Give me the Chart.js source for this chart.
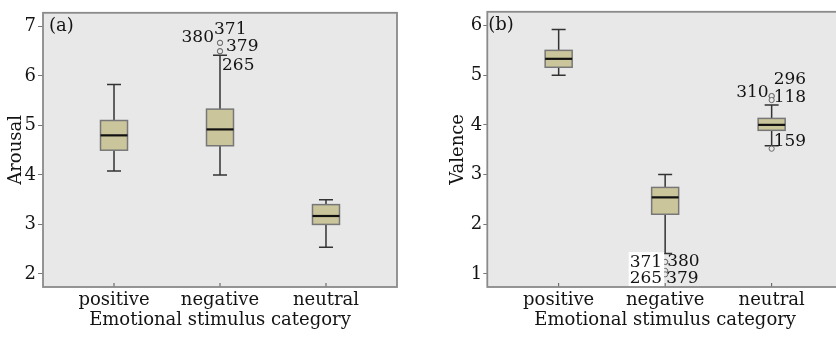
<!DOCTYPE html>
<html>
<head>
<meta charset="utf-8">
<script src="https://cdn.jsdelivr.net/npm/chart.js@4.4.0/dist/chart.umd.min.js"></script>
<style>
    html, body { margin: 0; padding: 0; background: #fff; overflow: hidden; width: 836px; height: 339px; }
    #panelA { position: absolute; left: 0; top: 0; }
    #panelB { position: absolute; left: 420px; top: 0; }
</style>
</head>
<body>
<canvas id="panelA" width="420" height="339"></canvas>
<canvas id="panelB" width="430" height="339"></canvas>
<script>
// Data
const categories = ['positive', 'negative', 'neutral'];

// (a) Arousal
const arousalMin = [4.08, 4.0, 2.54];
const arousalQ1 = [4.5, 4.59, 3.0];
const arousalMedian = [4.8, 4.92, 3.17];
const arousalQ3 = [5.1, 5.33, 3.4];
const arousalMax = [5.83, 6.42, 3.5];
const arousalOutlierCategory = [1, 1, 1, 1];
const arousalOutlierValue = [6.67, 6.67, 6.5, 6.5];
const arousalOutlierId = ['380', '371', '379', '265'];
const arousalTicks = [2, 3, 4, 5, 6, 7];

// (b) Valence
const valenceMin = [5.0, 1.41, 3.58];
const valenceQ1 = [5.16, 2.2, 3.89];
const valenceMedian = [5.33, 2.54, 4.0];
const valenceQ3 = [5.5, 2.74, 4.13];
const valenceMax = [5.92, 3.0, 4.4];
const valenceOutlierCategory = [1, 1, 1, 1, 2, 2, 2, 2];
const valenceOutlierValue = [1.24, 1.24, 1.06, 0.99, 4.58, 4.58, 4.5, 3.52];
const valenceOutlierId = ['371', '380', '265', '379', '296', '310', '118', '159'];
const valenceTicks = [1, 2, 3, 4, 5, 6];

// Styling
const FONT = 'DejaVu Serif';
const TEXT = '#141414';
const PLOT_BG = '#e8e8e8';
const BOX_FILL = '#cbc59c';

// where each outlier id sits next to its point (pixels)
const labelPlacementA = {
    '380': { dx: -6, dy: -7, align: 'right' },
    '371': { dx: -6, dy: -15, align: 'left' },
    '379': { dx: 6, dy: -6, align: 'left' },
    '265': { dx: 2, dy: 13, align: 'left' }
};
const labelPlacementB = {
    '371': { dx: -3, dy: -1, align: 'right', bg: true },
    '380': { dx: 2, dy: -2, align: 'left' },
    '265': { dx: -3, dy: 6, align: 'right', bg: true },
    '379': { dx: 1, dy: 2.5, align: 'left' },
    '296': { dx: 2, dy: -18, align: 'left' },
    '310': { dx: -3, dy: -5, align: 'right' },
    '118': { dx: 2, dy: -4, align: 'left' },
    '159': { dx: 2, dy: -9, align: 'left' }
};

const panels = {
    panelA: {
        min: arousalMin, q1: arousalQ1, median: arousalMedian, q3: arousalQ3, max: arousalMax,
        outCat: arousalOutlierCategory, outVal: arousalOutlierValue, outId: arousalOutlierId,
        placement: labelPlacementA, tag: '(a)', tagDx: 6
    },
    panelB: {
        min: valenceMin, q1: valenceQ1, median: valenceMedian, q3: valenceQ3, max: valenceMax,
        outCat: valenceOutlierCategory, outVal: valenceOutlierValue, outId: valenceOutlierId,
        placement: labelPlacementB, tag: '(b)', tagDx: 1
    }
};

// Box plot drawing
const boxPlugin = {
    id: 'boxPlot',
    beforeDraw(chart) {
        const a = chart.chartArea;
        const ctx = chart.ctx;
        ctx.save();
        ctx.fillStyle = PLOT_BG;
        ctx.fillRect(a.left, a.top, a.right - a.left, a.bottom - a.top);
        ctx.restore();
    },
    beforeDatasetsDraw(chart) {
        const p = panels[chart.canvas.id];
        const ctx = chart.ctx;
        const xs = chart.scales.x;
        const ys = chart.scales.y;
        const a = chart.chartArea;
        ctx.save();
        categories.forEach((c, i) => {
            const x = xs.getPixelForValue(i + 1);
            const yMin = ys.getPixelForValue(p.min[i]);
            const yQ1 = ys.getPixelForValue(p.q1[i]);
            const yMed = ys.getPixelForValue(p.median[i]);
            const yQ3 = ys.getPixelForValue(p.q3[i]);
            const yMax = ys.getPixelForValue(p.max[i]);

            // whiskers
            ctx.strokeStyle = '#333';
            ctx.lineWidth = 1.5;
            ctx.beginPath();
            ctx.moveTo(x, yMax); ctx.lineTo(x, yQ3);
            ctx.moveTo(x, yQ1); ctx.lineTo(x, yMin);
            ctx.moveTo(x - 7, yMax); ctx.lineTo(x + 7, yMax);
            ctx.moveTo(x - 7, yMin); ctx.lineTo(x + 7, yMin);
            ctx.stroke();

            // box
            ctx.fillStyle = BOX_FILL;
            ctx.fillRect(x - 13.5, yQ3, 27, yQ1 - yQ3);
            ctx.strokeStyle = '#777';
            ctx.lineWidth = 1.5;
            ctx.strokeRect(x - 13.5, yQ3, 27, yQ1 - yQ3);

            // median
            ctx.strokeStyle = '#111';
            ctx.lineWidth = 2.2;
            ctx.beginPath();
            ctx.moveTo(x - 13.5, yMed); ctx.lineTo(x + 13.5, yMed);
            ctx.stroke();

            // x tick mark, pointing into the plot
            ctx.strokeStyle = '#555';
            ctx.lineWidth = 1;
            ctx.beginPath();
            ctx.moveTo(x, a.bottom); ctx.lineTo(x, a.bottom - 4);
            ctx.stroke();
        });
        ctx.restore();
    },
    afterDatasetsDraw(chart) {
        const p = panels[chart.canvas.id];
        const ctx = chart.ctx;
        const xs = chart.scales.x;
        const ys = chart.scales.y;
        const a = chart.chartArea;
        ctx.save();
        ctx.font = `17px "${FONT}"`;
        ctx.textBaseline = 'alphabetic';
        p.outId.forEach((id, k) => {
            const pl = p.placement[id];
            const x = xs.getPixelForValue(p.outCat[k] + 1) + pl.dx;
            const y = ys.getPixelForValue(p.outVal[k]) + pl.dy + 6.2;
            ctx.textAlign = pl.align;
            if (pl.bg) {
                const w = ctx.measureText(id).width;
                const left = pl.align === 'right' ? x - w : x;
                ctx.fillStyle = '#fff';
                ctx.fillRect(left - 1, y - 15, w + 3, 19);
            }
            ctx.fillStyle = TEXT;
            ctx.fillText(id, x, y);
        });

        // panel tag
        ctx.font = `18px "${FONT}"`;
        ctx.textAlign = 'left';
        ctx.textBaseline = 'middle';
        ctx.fillStyle = TEXT;
        ctx.fillText(p.tag, a.left + p.tagDx, ys.getPixelForValue(ys.max) + 14);
        ctx.restore();
    },
    afterDraw(chart) {
        const a = chart.chartArea;
        const ctx = chart.ctx;
        ctx.save();
        ctx.strokeStyle = '#8a8a8a';
        ctx.lineWidth = 1.8;
        ctx.strokeRect(a.left, a.top, a.right - a.left, a.bottom - a.top);
        ctx.restore();
    }
};

// Build one panel
function makePanel(canvasId, cfg) {
    const p = panels[canvasId];
    const points = p.outVal.map((v, k) => ({ x: p.outCat[k] + 1, y: v }));
    const ctx = document.getElementById(canvasId).getContext('2d');
    return new Chart(ctx, {
        type: 'scatter',
        data: {
            datasets: [{
                data: points,
                pointRadius: 2.6,
                pointBorderWidth: 1,
                pointBorderColor: '#6a6a6a',
                pointBackgroundColor: PLOT_BG
            }]
        },
        options: {
            responsive: false,
            animation: false,
            devicePixelRatio: 1,
            layout: { padding: { top: 7, right: cfg.padRight, bottom: 0, left: 0 } },
            plugins: { legend: { display: false }, tooltip: { enabled: false } },
            scales: {
                x: {
                    type: 'linear',
                    min: 0.33,
                    max: 3.67,
                    afterFit: s => { s.height = 52; },
                    afterBuildTicks: s => { s.ticks = categories.map((c, i) => ({ value: i + 1 })); },
                    ticks: {
                        callback: v => categories[v - 1] || '',
                        autoSkip: false,
                        maxRotation: 0,
                        padding: 3,
                        color: TEXT,
                        font: { family: FONT, size: 18 }
                    },
                    grid: { display: false, drawTicks: false },
                    border: { display: false },
                    title: {
                        display: true,
                        text: 'Emotional stimulus category',
                        color: TEXT,
                        padding: { top: 0, bottom: 8 },
                        font: { family: FONT, size: 18 }
                    }
                },
                y: {
                    type: 'linear',
                    min: cfg.yMin,
                    max: cfg.yMax,
                    afterFit: s => { s.width = cfg.axisWidth; },
                    afterBuildTicks: s => { s.ticks = cfg.ticks.map(v => ({ value: v })); },
                    ticks: {
                        color: TEXT,
                        padding: cfg.tickPad,
                        font: { family: FONT, size: 18 }
                    },
                    grid: {
                        drawOnChartArea: false,
                        drawTicks: true,
                        tickLength: cfg.tickLen,
                        tickColor: '#777'
                    },
                    border: { display: false },
                    title: {
                        display: true,
                        text: cfg.title,
                        color: TEXT,
                        padding: { top: cfg.titlePad, bottom: 0 },
                        font: { family: FONT, size: 18 }
                    }
                }
            }
        },
        plugins: [boxPlugin]
    });
}

makePanel('panelA', {
    title: 'Arousal', ticks: arousalTicks, yMin: 1.735, yMax: 7.277,
    axisWidth: 43, padRight: 23, tickPad: 2, tickLen: 5, titlePad: 6
});
makePanel('panelB', {
    title: 'Valence', ticks: valenceTicks, yMin: 0.735, yMax: 6.277,
    axisWidth: 67.3, padRight: 7, tickPad: 1, tickLen: 4, titlePad: 28
});
</script>
</body>
</html>
